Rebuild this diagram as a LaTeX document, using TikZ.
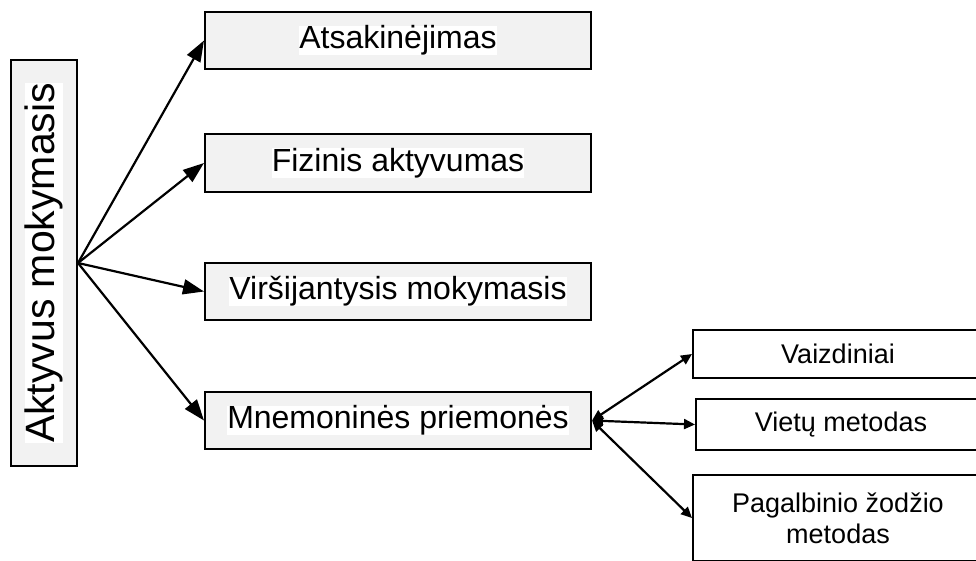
\documentclass[tikz,border=0pt]{standalone}
\usepackage{fontspec}
\setmainfont{Liberation Sans}
\usepackage{xcolor}
\usetikzlibrary{arrows.meta}
\definecolor{boxgray}{HTML}{F2F2F2}
\setlength{\fboxsep}{0pt}
\def\lbl#1{\colorbox{white}{#1}}

\begin{document}
\begin{tikzpicture}[x=1pt,y=-1pt,
    graybox/.style={draw,line width=2pt,fill=boxgray,inner sep=0pt,minimum width=386pt,font=\fontsize{32}{38}\selectfont},
    whitebox/.style={draw,line width=2pt,fill=white,inner sep=0pt,minimum width=290pt,align=center,font=\fontsize{27}{31}\selectfont},
    bigarrow/.style={line width=2.2pt,-{Triangle[length=21pt,width=15pt]}},
    smallarrow/.style={line width=2.2pt,{Triangle[length=11pt,width=10pt]}-{Triangle[length=11pt,width=10pt]}}]
    \useasboundingbox (0,0) rectangle (976,560);
    \clip (0,0) rectangle (976,560);
    % main box
    \node[draw,line width=2pt,fill=boxgray,inner sep=0pt,minimum width=406pt,minimum height=66pt,rotate=90,font=\fontsize{41}{48}\selectfont] (aktyvus) at (44,263) {\lbl{Aktyvus mokymasis}};
    % first level
    \node[graybox,minimum height=57pt] (atsak) at (398,40.5) {\lbl{Atsakinėjimas}};
    \node[graybox,minimum height=58pt] (fizinis) at (398,163) {\lbl{Fizinis aktyvumas}};
    \node[graybox,minimum height=57pt] (virsij) at (398,291.5) {\lbl{Viršijantysis mokymasis}};
    \node[graybox,minimum height=57pt] (mnemo) at (398,420.5) {\lbl{Mnemoninės priemonės}};
    % second level
    \node[whitebox,minimum height=48pt] (vaizd) at (838,354) {Vaizdiniai};
    \node[whitebox,minimum height=51pt] (vietu) at (841,424.5) {Vietų metodas};
    \node[whitebox,minimum height=86pt] (pagalb) at (838,518) {Pagalbinio žodžio\\metodas};
    \draw[bigarrow] (aktyvus.south) -- (atsak.west);
    \draw[bigarrow] (aktyvus.south) -- (fizinis.west);
    \draw[bigarrow] (aktyvus.south) -- (virsij.west);
    \draw[bigarrow] (aktyvus.south) -- (mnemo.west);
    \draw[smallarrow] (mnemo.east) -- (vaizd.west);
    \draw[smallarrow] (mnemo.east) -- (vietu.west);
    \draw[smallarrow] (mnemo.east) -- (pagalb.west);
\end{tikzpicture}
\end{document}
